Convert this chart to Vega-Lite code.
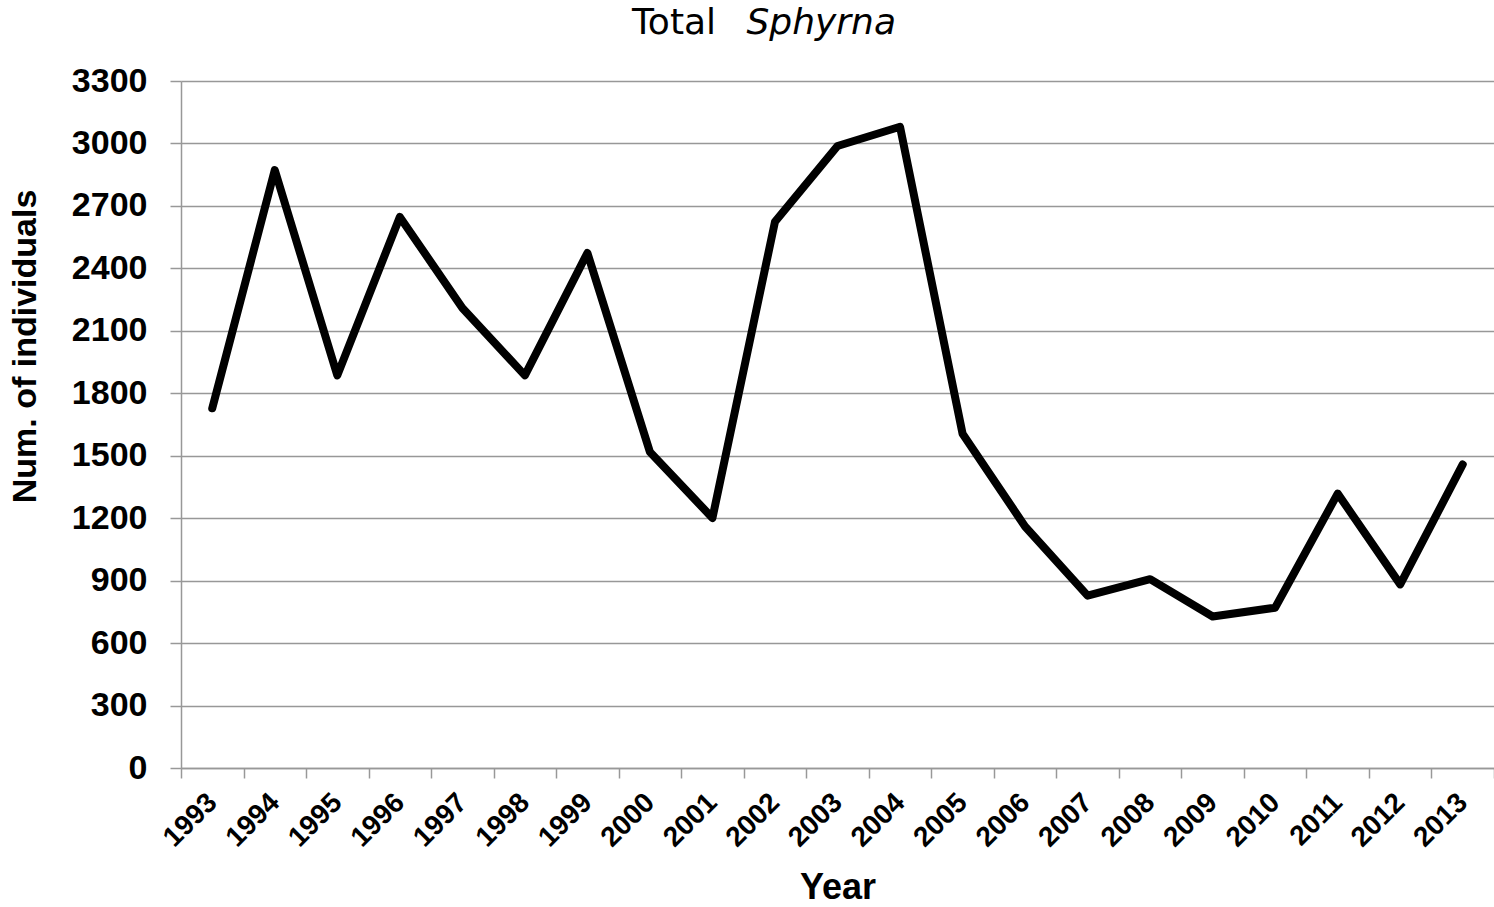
{
  "$schema": "https://vega.github.io/schema/vega-lite/v6.json",
  "width": 1313,
  "height": 687,
  "autosize": {"type": "none"},
  "padding": {"left": 181, "top": 81, "right": 0, "bottom": 139},
  "background": "white",
  "title": {
    "text": "Total",
    "subtitle": "\u200b\u00a0\u00a0\u00a0\u00a0\u00a0\u00a0\u00a0\u00a0\u00a0\u00a0Sphyrna",
    "anchor": "start",
    "frame": "group",
    "dx": 451,
    "font": "DejaVu Sans",
    "fontSize": 36,
    "fontWeight": "normal",
    "color": "black",
    "subtitleFont": "DejaVu Sans",
    "subtitleFontSize": 36,
    "subtitleFontStyle": "italic",
    "subtitleFontWeight": "normal",
    "subtitleColor": "black",
    "subtitlePadding": -36,
    "offset": 22
  },
  "data": {
    "values": [
      {"year": "1993", "count": 1728},
      {"year": "1994", "count": 2872},
      {"year": "1995", "count": 1886},
      {"year": "1996", "count": 2647},
      {"year": "1997", "count": 2210},
      {"year": "1998", "count": 1886},
      {"year": "1999", "count": 2474},
      {"year": "2000", "count": 1518},
      {"year": "2001", "count": 1201},
      {"year": "2002", "count": 2624},
      {"year": "2003", "count": 2988},
      {"year": "2004", "count": 3080},
      {"year": "2005", "count": 1606},
      {"year": "2006", "count": 1160},
      {"year": "2007", "count": 828},
      {"year": "2008", "count": 907},
      {"year": "2009", "count": 728},
      {"year": "2010", "count": 770},
      {"year": "2011", "count": 1318},
      {"year": "2012", "count": 882},
      {"year": "2013", "count": 1458}
    ]
  },
  "mark": {"type": "line", "color": "black", "strokeWidth": 8, "strokeCap": "round", "strokeJoin": "round"},
  "encoding": {
    "x": {
      "field": "year",
      "type": "ordinal",
      "scale": {"type": "band", "paddingInner": 0, "paddingOuter": 0},
      "axis": {
        "title": "Year",
        "tickBand": "extent",
        "labelAngle": -45,
        "labelAlign": "right",
        "labelBaseline": "middle",
        "labelFont": "Liberation Sans",
        "labelFontWeight": "bold",
        "labelFontSize": 28,
        "labelColor": "black",
        "labelPadding": 20,
        "labelOverlap": false,
        "tickSize": 10,
        "tickColor": "#989898",
        "tickWidth": 1.5,
        "domainColor": "#989898",
        "domainWidth": 1.5,
        "grid": false,
        "titleFont": "Liberation Sans",
        "titleFontSize": 36,
        "titleFontWeight": "bold",
        "titleColor": "black",
        "titleY": 130,
        "titleBaseline": "alphabetic"
      }
    },
    "y": {
      "field": "count",
      "type": "quantitative",
      "scale": {"domain": [0, 3300], "nice": false},
      "axis": {
        "title": "Num. of individuals",
        "values": [0, 300, 600, 900, 1200, 1500, 1800, 2100, 2400, 2700, 3000, 3300],
        "format": "d",
        "grid": true,
        "gridColor": "#989898",
        "gridWidth": 1.5,
        "tickSize": 11,
        "tickColor": "#989898",
        "tickWidth": 1.5,
        "domainColor": "#989898",
        "domainWidth": 1.5,
        "labelFont": "Liberation Sans",
        "labelFontWeight": "bold",
        "labelFontSize": 34,
        "labelColor": "black",
        "labelPadding": 23,
        "titleFont": "Liberation Sans",
        "titleFontSize": 34,
        "titleFontWeight": "bold",
        "titleColor": "black",
        "titleX": -156,
        "titleY": 265,
        "titleAngle": -90,
        "titleAlign": "center",
        "titleBaseline": "middle"
      }
    }
  },
  "config": {"view": {"stroke": null}}
}
